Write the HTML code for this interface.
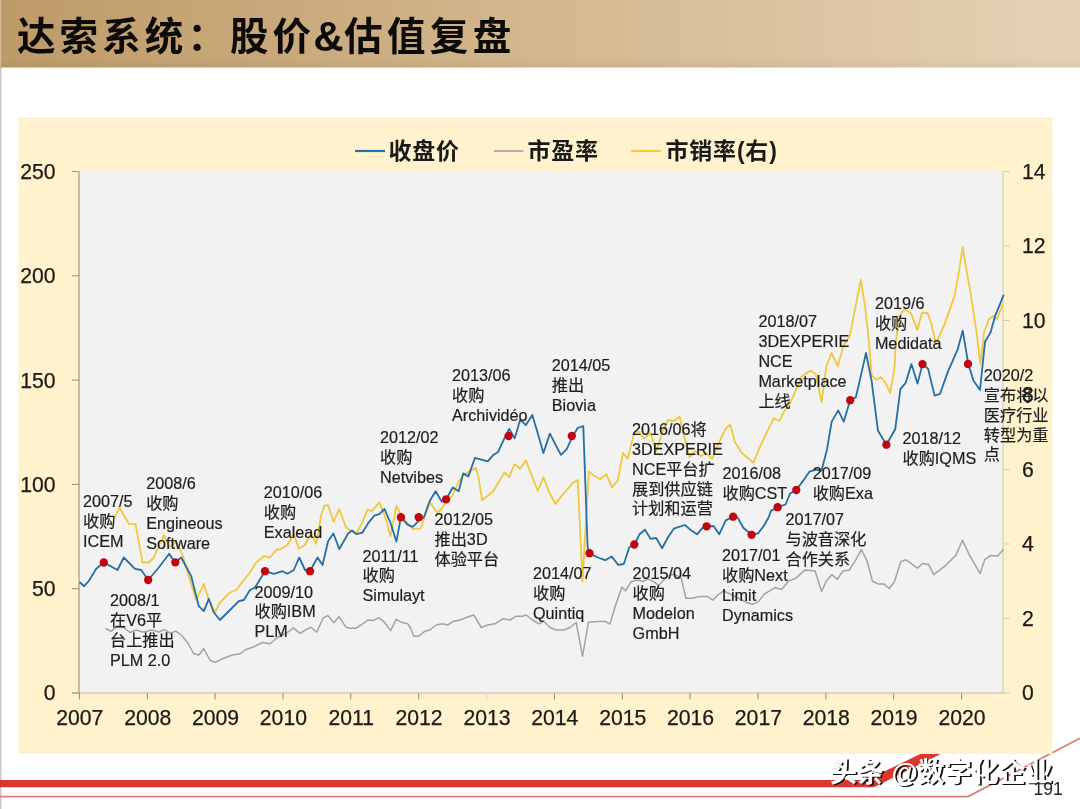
<!DOCTYPE html>
<html lang="zh-CN">
<head>
<meta charset="utf-8">
<title>达索系统：股价&amp;估值复盘</title>
<style>
html,body{margin:0;padding:0;background:#fff;}
body{width:1080px;height:809px;overflow:hidden;position:relative;font-family:"Liberation Sans","Noto Sans CJK SC",sans-serif;}
svg{position:absolute;left:0;top:0;display:block;}
.t{font-family:"Liberation Sans","Noto Sans CJK SC",sans-serif;}
.ax{font-size:21.2px;fill:#1c1a17;stroke:#1c1a17;stroke-width:0.25px;}
.an{font-size:16.2px;fill:#1e1e1e;stroke:#1e1e1e;stroke-width:0.2px;}
.lg{font-size:23px;font-weight:bold;fill:#1a1a1a;letter-spacing:0.8px;}
.ttl{font-size:38.5px;font-weight:bold;fill:#0d0b08;letter-spacing:4.4px;}
</style>
</head>
<body>
<svg width="1080" height="809" viewBox="0 0 1080 809">
<defs>
<linearGradient id="hg" x1="0" y1="0" x2="1" y2="0">
<stop offset="0" stop-color="#be9a68"/>
<stop offset="0.5" stop-color="#d3b78e"/>
<stop offset="1" stop-color="#e5d2b6"/>
</linearGradient>
<linearGradient id="hv" x1="0" y1="0" x2="0" y2="1">
<stop offset="0" stop-color="#000" stop-opacity="0"/>
<stop offset="0.25" stop-color="#000" stop-opacity="0"/>
<stop offset="0.85" stop-color="#000" stop-opacity="0"/>
<stop offset="1" stop-color="#000" stop-opacity="0.05"/>
</linearGradient>
<clipPath id="pc"><rect x="79" y="169.5" width="926" height="523.5"/></clipPath>
</defs>

<rect x="0" y="0" width="1080" height="809" fill="#ffffff"/>
<rect x="0" y="67" width="1.5" height="742" fill="#c9c9c9"/>
<rect x="0" y="0" width="1080" height="67.5" fill="url(#hg)"/>
<rect x="0" y="0" width="1080" height="67.5" fill="url(#hv)"/>
<rect x="0" y="0" width="1.5" height="67" fill="#ffffff" fill-opacity="0.3"/>
<text class="t ttl" x="17" y="50" style="letter-spacing:4.1px">达索系统：股价</text>
<text class="t" x="313.3" y="50.5" font-size="42px" font-weight="bold" fill="#0d0b08">&amp;</text>
<text class="t ttl" x="344" y="50">估值复盘</text>
<polygon points="0,780.1 866.5,780.1 928.6,750 948.6,750 874,787.3 0,787.3" fill="#d9372f"/>
<polyline points="0,796.6 968,796.6 1080,738.3" fill="none" stroke="#de8078" stroke-width="1.9"/>
<rect x="18.3" y="117" width="1034.1" height="637" fill="#fff2cd"/>
<rect x="79" y="171.5" width="924" height="521.5" fill="#f2f2f2"/>
<line x1="79" y1="171.5" x2="79" y2="693" stroke="#a08e6e" stroke-width="1.1"/>
<line x1="1003" y1="171.5" x2="1003" y2="693" stroke="#d3c7a4" stroke-width="1"/>
<line x1="72" y1="693" x2="1003" y2="693" stroke="#c4b9a0" stroke-width="1.2"/>
<line x1="72" y1="693.0" x2="79" y2="693.0" stroke="#a08e6e" stroke-width="1"/>
<text class="t ax" x="55.5" y="700.4" text-anchor="end">0</text>
<line x1="72" y1="588.7" x2="79" y2="588.7" stroke="#a08e6e" stroke-width="1"/>
<text class="t ax" x="55.5" y="596.1" text-anchor="end">50</text>
<line x1="72" y1="484.4" x2="79" y2="484.4" stroke="#a08e6e" stroke-width="1"/>
<text class="t ax" x="55.5" y="491.8" text-anchor="end">100</text>
<line x1="72" y1="380.1" x2="79" y2="380.1" stroke="#a08e6e" stroke-width="1"/>
<text class="t ax" x="55.5" y="387.5" text-anchor="end">150</text>
<line x1="72" y1="275.8" x2="79" y2="275.8" stroke="#a08e6e" stroke-width="1"/>
<text class="t ax" x="55.5" y="283.2" text-anchor="end">200</text>
<line x1="72" y1="171.5" x2="79" y2="171.5" stroke="#a08e6e" stroke-width="1"/>
<text class="t ax" x="55.5" y="178.9" text-anchor="end">250</text>
<line x1="1003" y1="693.0" x2="1010" y2="693.0" stroke="#d8cdac" stroke-width="1"/>
<text class="t ax" x="1022" y="700.4">0</text>
<line x1="1003" y1="618.5" x2="1010" y2="618.5" stroke="#d8cdac" stroke-width="1"/>
<text class="t ax" x="1022" y="625.9">2</text>
<line x1="1003" y1="544.0" x2="1010" y2="544.0" stroke="#d8cdac" stroke-width="1"/>
<text class="t ax" x="1022" y="551.4">4</text>
<line x1="1003" y1="469.5" x2="1010" y2="469.5" stroke="#d8cdac" stroke-width="1"/>
<text class="t ax" x="1022" y="476.9">6</text>
<line x1="1003" y1="395.0" x2="1010" y2="395.0" stroke="#d8cdac" stroke-width="1"/>
<text class="t ax" x="1022" y="402.4">8</text>
<line x1="1003" y1="320.5" x2="1010" y2="320.5" stroke="#d8cdac" stroke-width="1"/>
<text class="t ax" x="1022" y="327.9">10</text>
<line x1="1003" y1="246.0" x2="1010" y2="246.0" stroke="#d8cdac" stroke-width="1"/>
<text class="t ax" x="1022" y="253.4">12</text>
<line x1="1003" y1="171.5" x2="1010" y2="171.5" stroke="#d8cdac" stroke-width="1"/>
<text class="t ax" x="1022" y="178.9">14</text>
<line x1="79.4" y1="693" x2="79.4" y2="699.5" stroke="#9a8a6c" stroke-width="1"/>
<text class="t ax" x="79.8" y="725" text-anchor="middle">2007</text>
<line x1="147.3" y1="693" x2="147.3" y2="699.5" stroke="#9a8a6c" stroke-width="1"/>
<text class="t ax" x="147.7" y="725" text-anchor="middle">2008</text>
<line x1="215.1" y1="693" x2="215.1" y2="699.5" stroke="#9a8a6c" stroke-width="1"/>
<text class="t ax" x="215.5" y="725" text-anchor="middle">2009</text>
<line x1="283.0" y1="693" x2="283.0" y2="699.5" stroke="#9a8a6c" stroke-width="1"/>
<text class="t ax" x="283.4" y="725" text-anchor="middle">2010</text>
<line x1="350.8" y1="693" x2="350.8" y2="699.5" stroke="#9a8a6c" stroke-width="1"/>
<text class="t ax" x="351.2" y="725" text-anchor="middle">2011</text>
<line x1="418.7" y1="693" x2="418.7" y2="699.5" stroke="#9a8a6c" stroke-width="1"/>
<text class="t ax" x="419.1" y="725" text-anchor="middle">2012</text>
<line x1="486.6" y1="693" x2="486.6" y2="699.5" stroke="#d8cfb4" stroke-width="1"/>
<text class="t ax" x="487.0" y="725" text-anchor="middle">2013</text>
<line x1="554.4" y1="693" x2="554.4" y2="699.5" stroke="#9a8a6c" stroke-width="1"/>
<text class="t ax" x="554.8" y="725" text-anchor="middle">2014</text>
<line x1="622.3" y1="693" x2="622.3" y2="699.5" stroke="#9a8a6c" stroke-width="1"/>
<text class="t ax" x="622.7" y="725" text-anchor="middle">2015</text>
<line x1="690.1" y1="693" x2="690.1" y2="699.5" stroke="#9a8a6c" stroke-width="1"/>
<text class="t ax" x="690.5" y="725" text-anchor="middle">2016</text>
<line x1="758.0" y1="693" x2="758.0" y2="699.5" stroke="#9a8a6c" stroke-width="1"/>
<text class="t ax" x="758.4" y="725" text-anchor="middle">2017</text>
<line x1="825.9" y1="693" x2="825.9" y2="699.5" stroke="#9a8a6c" stroke-width="1"/>
<text class="t ax" x="826.3" y="725" text-anchor="middle">2018</text>
<line x1="893.7" y1="693" x2="893.7" y2="699.5" stroke="#9a8a6c" stroke-width="1"/>
<text class="t ax" x="894.1" y="725" text-anchor="middle">2019</text>
<line x1="961.6" y1="693" x2="961.6" y2="699.5" stroke="#9a8a6c" stroke-width="1"/>
<text class="t ax" x="962.0" y="725" text-anchor="middle">2020</text>
<line x1="355" y1="151" x2="385" y2="151" stroke="#256fa3" stroke-width="2.2"/>
<text class="t lg" x="388.5" y="158.7">收盘价</text>
<line x1="494" y1="151" x2="523.5" y2="151" stroke="#a9a9a9" stroke-width="1.8"/>
<text class="t lg" x="527.5" y="158.7">市盈率</text>
<line x1="631" y1="151" x2="661" y2="151" stroke="#f3c93f" stroke-width="2.2"/>
<text class="t lg" x="665.5" y="158.7">市销率(右)</text>
<g clip-path="url(#pc)" fill="none" stroke-linejoin="round" stroke-linecap="round">
<polyline points="106.2,628.8 111.2,631.2 117.5,626.2 123.8,627.5 130.0,632.5 136.2,630.0 142.5,632.0 148.0,631.0 152.0,630.0 158.7,632.0 164.6,629.6 170.6,633.3 175.7,631.1 181.2,635.0 187.5,642.5 193.8,653.8 198.8,655.0 203.8,648.8 210.0,660.0 215.0,662.5 222.5,658.8 232.5,655.0 240.0,653.8 245.0,650.0 255.0,646.2 262.5,642.5 270.0,643.8 277.5,637.5 287.5,632.5 293.3,627.8 300.0,633.3 305.5,630.0 311.1,627.2 316.7,632.2 323.3,617.8 327.8,615.6 333.9,622.8 338.9,616.7 345.6,626.7 350.0,628.3 355.6,628.3 361.1,625.0 367.8,620.0 372.8,620.6 378.9,617.8 384.4,622.2 390.6,630.6 396.1,619.4 401.1,622.2 407.8,623.8 410.5,628.0 413.8,636.2 418.8,636.2 425.0,631.2 430.0,630.0 436.2,625.0 442.5,623.8 447.5,625.0 453.8,621.2 460.0,620.0 466.2,617.5 473.8,615.0 481.2,627.5 487.5,625.0 495.0,623.8 502.5,618.8 510.0,620.0 516.2,616.2 522.5,616.2 526.2,615.0 532.5,620.0 538.8,623.8 543.8,621.2 550.0,627.5 556.2,630.0 563.8,630.0 570.0,627.5 576.2,622.5 582.5,656.2 588.5,622.3 597.8,621.4 605.2,621.4 609.9,624.2 615.4,605.7 621.9,587.1 625.6,590.8 631.2,581.6 637.0,580.0 643.2,581.6 647.8,578.8 653.4,581.6 659.0,585.3 666.4,576.9 673.8,574.1 681.2,577.8 685.8,598.2 692.3,598.2 699.7,596.4 707.2,596.4 712.7,600.1 718.3,594.5 723.8,590.8 730.0,594.0 736.0,597.0 742.0,600.0 748.0,603.0 753.0,604.3 758.5,601.6 764.1,594.1 775.2,587.7 781.7,589.5 788.2,581.2 795.6,578.4 804.9,570.0 815.1,571.0 821.6,591.4 826.2,581.2 831.8,574.7 837.3,579.3 842.9,571.0 849.4,570.0 855.8,559.9 861.4,549.7 867.0,560.8 872.5,581.2 878.1,583.9 883.7,583.9 889.2,588.5 894.3,582.0 900.8,561.6 906.0,559.8 917.5,568.1 922.6,563.5 928.6,564.4 933.7,574.6 945.8,565.3 956.0,555.1 962.5,540.2 969.0,554.1 980.1,573.6 984.7,559.7 990.3,555.6 997.7,556.0 1003.3,549.5" stroke="#a3a3a3" stroke-width="1.5"/>
<polyline points="114.5,518.0 119.3,507.5 128.8,523.8 135.5,524.2 142.5,562.5 148.8,562.5 153.8,557.5 163.8,535.0 170.0,547.5 176.2,541.2 182.5,555.0 190.0,580.0 196.2,600.0 203.8,583.8 208.8,600.0 215.0,612.5 220.0,602.5 230.0,592.5 236.2,590.0 243.8,580.0 250.0,572.5 256.2,562.5 263.8,556.2 270.0,557.5 276.2,550.0 281.2,548.8 287.5,545.0 293.8,533.8 298.8,548.8 305.0,545.0 311.2,533.8 316.2,543.8 321.2,515.0 324.5,505.3 328.2,505.3 333.4,521.6 339.3,509.0 346.0,527.5 350.4,530.5 356.4,533.5 362.3,522.3 367.5,509.7 371.9,511.2 379.3,502.3 385.3,517.2 390.5,536.4 396.4,506.0 400.9,514.0 407.5,523.0 412.7,529.0 420.9,528.3 423.9,518.6 429.8,502.3 437.2,512.7 441.7,509.0 446.1,500.8 452.0,496.4 458.7,481.5 463.2,474.9 469.3,471.6 475.8,467.8 478.5,477.1 482.2,500.3 487.8,495.7 493.4,491.0 498.9,481.8 504.5,472.5 509.1,477.1 514.7,464.1 520.2,468.8 525.8,460.4 532.3,477.1 537.8,491.0 543.4,477.1 549.9,493.8 555.5,504.0 561.0,496.6 566.6,490.1 572.1,483.6 577.7,479.9 582.5,581.5 588.8,471.6 593.5,475.3 600.0,479.0 606.4,474.3 612.0,487.3 617.6,480.8 623.1,453.0 627.7,458.6 634.2,432.6 638.5,431.2 644.1,438.6 650.6,433.0 656.1,451.6 662.6,431.2 668.2,420.0 673.8,421.0 679.6,416.8 684.5,438.0 689.5,457.0 695.5,451.0 701.0,456.0 706.5,453.0 712.0,459.0 718.2,444.1 725.7,428.5 730.3,424.7 734.9,442.3 742.3,453.4 753.5,462.7 759.9,446.9 767.4,431.2 773.8,418.2 779.4,421.0 784.0,411.7 788.7,406.1 794.2,394.1 798.9,383.0 801.1,377.1 810.4,370.6 816.0,374.3 821.5,402.1 826.3,366.8 831.4,353.0 837.9,366.0 843.5,345.5 849.7,336.2 855.2,308.4 860.8,279.7 865.4,308.4 869.1,343.6 871.6,375.2 876.2,379.9 880.8,377.1 885.5,382.6 890.1,392.8 894.5,368.0 896.0,340.0 899.7,315.8 904.3,309.3 910.8,313.0 917.3,329.7 921.9,313.0 927.5,313.0 931.2,323.2 935.8,343.6 944.2,325.1 954.4,296.4 959.0,271.3 962.7,247.2 966.4,269.5 971.1,296.4 976.6,332.5 980.3,364.0 984.0,332.5 988.7,319.5 993.3,315.8 997.0,319.5 1002.6,304.7" stroke="#f2c73c" stroke-width="1.8"/>
<polyline points="80.0,582.5 84.2,586.2 88.8,581.0 96.2,568.8 103.8,562.5 117.5,570.0 123.8,557.5 135.0,568.8 141.2,570.0 148.2,580.0 158.8,567.5 169.2,553.8 175.0,562.5 181.2,557.5 191.2,576.2 198.8,606.2 203.8,611.2 208.8,598.8 213.8,612.5 220.0,620.0 230.0,610.0 238.8,601.2 243.8,600.0 250.0,590.0 255.0,587.5 265.0,571.2 273.8,573.8 282.5,571.2 287.5,573.8 293.8,570.0 299.2,557.5 305.0,570.0 310.0,571.2 317.5,557.5 322.5,565.0 328.2,541.0 333.4,533.5 339.3,549.0 348.2,533.5 351.9,530.5 356.4,534.2 362.3,532.7 368.2,523.1 374.2,515.7 379.3,514.2 384.5,509.0 390.5,523.0 396.4,541.6 400.9,517.2 407.5,524.6 412.7,526.8 418.7,520.9 423.9,517.2 429.8,500.8 435.7,491.2 441.7,501.6 446.1,499.3 452.8,487.5 458.7,491.2 463.2,473.4 468.4,476.4 475.0,457.8 487.8,461.4 493.4,454.9 498.0,452.1 504.5,438.2 509.1,428.9 514.7,438.2 520.2,419.7 525.8,425.2 532.3,415.0 537.8,433.6 543.4,453.0 549.9,433.6 555.5,444.7 561.0,454.9 566.6,449.3 572.1,437.3 577.7,428.0 583.3,426.1 587.6,547.0 589.5,553.2 597.8,557.5 605.2,560.2 611.7,556.5 618.2,564.9 623.8,564.0 629.3,547.3 634.3,544.5 639.5,534.3 645.0,529.7 650.6,538.9 656.2,538.0 662.1,548.2 668.2,537.0 673.8,528.7 684.9,525.0 691.4,530.6 697.0,534.3 702.5,527.8 706.6,526.3 713.6,526.0 719.2,534.3 725.7,520.4 733.1,516.7 737.7,517.6 743.3,527.8 751.6,534.8 758.1,533.4 763.7,526.0 768.3,518.0 771.0,510.9 777.6,507.2 785.6,504.5 790.1,493.5 796.3,490.0 803.0,480.9 809.5,471.6 816.0,469.7 821.5,470.7 827.0,449.4 831.7,421.6 838.2,410.4 843.8,421.6 850.2,400.2 855.8,397.5 861.4,373.4 866.0,353.0 871.6,380.8 878.0,430.8 886.4,444.7 895.2,429.3 900.4,389.1 905.8,382.6 911.4,364.1 917.5,383.6 922.5,364.1 928.1,368.7 934.6,395.6 940.1,393.8 947.6,372.4 957.7,349.3 962.7,330.7 968.3,364.0 973.5,380.8 980.0,390.0 985.0,341.8 990.5,332.5 995.2,315.8 999.8,304.7 1003.5,295.4" stroke="#256fa3" stroke-width="1.8"/>
</g>
<circle cx="103.8" cy="562.5" r="4.15" fill="#c3050f"/>
<circle cx="148.2" cy="580.0" r="4.15" fill="#c3050f"/>
<circle cx="175.3" cy="562.3" r="4.15" fill="#c3050f"/>
<circle cx="265.0" cy="571.2" r="4.15" fill="#c3050f"/>
<circle cx="310.0" cy="571.2" r="4.15" fill="#c3050f"/>
<circle cx="400.9" cy="517.2" r="4.15" fill="#c3050f"/>
<circle cx="418.7" cy="517.2" r="4.15" fill="#c3050f"/>
<circle cx="446.1" cy="499.3" r="4.15" fill="#c3050f"/>
<circle cx="508.6" cy="436.0" r="4.15" fill="#c3050f"/>
<circle cx="571.8" cy="436.0" r="4.15" fill="#c3050f"/>
<circle cx="589.5" cy="553.2" r="4.15" fill="#c3050f"/>
<circle cx="634.3" cy="544.5" r="4.15" fill="#c3050f"/>
<circle cx="706.6" cy="526.3" r="4.15" fill="#c3050f"/>
<circle cx="733.1" cy="516.7" r="4.15" fill="#c3050f"/>
<circle cx="751.6" cy="534.8" r="4.15" fill="#c3050f"/>
<circle cx="777.6" cy="507.2" r="4.15" fill="#c3050f"/>
<circle cx="796.3" cy="490.0" r="4.15" fill="#c3050f"/>
<circle cx="850.2" cy="400.2" r="4.15" fill="#c3050f"/>
<circle cx="886.4" cy="444.7" r="4.15" fill="#c3050f"/>
<circle cx="922.5" cy="364.1" r="4.15" fill="#c3050f"/>
<circle cx="968.0" cy="364.0" r="4.15" fill="#c3050f"/>
<text class="t an" x="83.0" y="507.0">
<tspan x="83.0" y="507.0">2007/5</tspan>
<tspan x="83.0" y="526.9">收购</tspan>
<tspan x="83.0" y="546.8">ICEM</tspan>
</text>
<text class="t an" x="146.2" y="488.8">
<tspan x="146.2" y="488.8">2008/6</tspan>
<tspan x="146.2" y="508.6">收购</tspan>
<tspan x="146.2" y="528.5">Engineous</tspan>
<tspan x="146.2" y="548.5">Software</tspan>
</text>
<text class="t an" x="263.8" y="498.0">
<tspan x="263.8" y="498.0">2010/06</tspan>
<tspan x="263.8" y="517.9">收购</tspan>
<tspan x="263.8" y="537.8">Exalead</tspan>
</text>
<text class="t an" x="110.0" y="606.2">
<tspan x="110.0" y="606.2">2008/1</tspan>
<tspan x="110.0" y="626.1">在V6平</tspan>
<tspan x="110.0" y="646.0">台上推出</tspan>
<tspan x="110.0" y="666.0">PLM 2.0</tspan>
</text>
<text class="t an" x="254.5" y="597.5">
<tspan x="254.5" y="597.5">2009/10</tspan>
<tspan x="254.5" y="617.4">收购IBM</tspan>
<tspan x="254.5" y="637.3">PLM</tspan>
</text>
<text class="t an" x="362.5" y="561.5">
<tspan x="362.5" y="561.5">2011/11</tspan>
<tspan x="362.5" y="581.4">收购</tspan>
<tspan x="362.5" y="601.3">Simulayt</tspan>
</text>
<text class="t an" x="434.5" y="525.0">
<tspan x="434.5" y="525.0">2012/05</tspan>
<tspan x="434.5" y="544.9">推出3D</tspan>
<tspan x="434.5" y="564.8">体验平台</tspan>
</text>
<text class="t an" x="533.0" y="579.2">
<tspan x="533.0" y="579.2">2014/07</tspan>
<tspan x="533.0" y="599.1">收购</tspan>
<tspan x="533.0" y="619.0">Quintiq</tspan>
</text>
<text class="t an" x="380.0" y="443.0">
<tspan x="380.0" y="443.0">2012/02</tspan>
<tspan x="380.0" y="462.9">收购</tspan>
<tspan x="380.0" y="482.8">Netvibes</tspan>
</text>
<text class="t an" x="452.0" y="380.8">
<tspan x="452.0" y="380.8">2013/06</tspan>
<tspan x="452.0" y="400.6">收购</tspan>
<tspan x="452.0" y="420.6">Archividéo</tspan>
</text>
<text class="t an" x="551.8" y="371.2">
<tspan x="551.8" y="371.2">2014/05</tspan>
<tspan x="551.8" y="391.1">推出</tspan>
<tspan x="551.8" y="411.1">Biovia</tspan>
</text>
<text class="t an" x="632.0" y="434.8">
<tspan x="632.0" y="434.8">2016/06将</tspan>
<tspan x="632.0" y="454.7">3DEXPERIE</tspan>
<tspan x="632.0" y="474.6">NCE平台扩</tspan>
<tspan x="632.0" y="494.5">展到供应链</tspan>
<tspan x="632.0" y="514.4">计划和运营</tspan>
</text>
<text class="t an" x="632.6" y="578.8">
<tspan x="632.6" y="578.8">2015/04</tspan>
<tspan x="632.6" y="598.7">收购</tspan>
<tspan x="632.6" y="618.6">Modelon</tspan>
<tspan x="632.6" y="638.5">GmbH</tspan>
</text>
<text class="t an" x="722.0" y="560.8">
<tspan x="722.0" y="560.8">2017/01</tspan>
<tspan x="722.0" y="580.7">收购Next</tspan>
<tspan x="722.0" y="600.6">Limit</tspan>
<tspan x="722.0" y="620.5">Dynamics</tspan>
</text>
<text class="t an" x="722.5" y="479.0">
<tspan x="722.5" y="479.0">2016/08</tspan>
<tspan x="722.5" y="498.9">收购CST</tspan>
</text>
<text class="t an" x="785.5" y="524.8">
<tspan x="785.5" y="524.8">2017/07</tspan>
<tspan x="785.5" y="544.7">与波音深化</tspan>
<tspan x="785.5" y="564.6">合作关系</tspan>
</text>
<text class="t an" x="812.7" y="479.3">
<tspan x="812.7" y="479.3">2017/09</tspan>
<tspan x="812.7" y="499.2">收购Exa</tspan>
</text>
<text class="t an" x="758.4" y="326.9">
<tspan x="758.4" y="326.9">2018/07</tspan>
<tspan x="758.4" y="346.8">3DEXPERIE</tspan>
<tspan x="758.4" y="366.7">NCE</tspan>
<tspan x="758.4" y="386.6">Marketplace</tspan>
<tspan x="758.4" y="406.5">上线</tspan>
</text>
<text class="t an" x="874.9" y="308.8">
<tspan x="874.9" y="308.8">2019/6</tspan>
<tspan x="874.9" y="328.7">收购</tspan>
<tspan x="874.9" y="348.6">Medidata</tspan>
</text>
<text class="t an" x="902.5" y="444.0">
<tspan x="902.5" y="444.0">2018/12</tspan>
<tspan x="902.5" y="463.9">收购IQMS</tspan>
</text>
<text class="t an" x="983.8" y="380.8">
<tspan x="983.8" y="380.8">2020/2</tspan>
<tspan x="983.8" y="400.7">宣布将以</tspan>
<tspan x="983.8" y="420.6">医疗行业</tspan>
<tspan x="983.8" y="440.5">转型为重</tspan>
<tspan x="983.8" y="460.4">点</tspan>
</text>
<g class="t" font-size="27px" font-weight="700" style="font-family:'Liberation Sans','Noto Sans CJK SC',sans-serif">
<text x="831.7" y="783.4" fill="#111">头条 @数字化企业</text>
<text x="830" y="781.7" fill="#ffffff">头条 @数字化企业</text>
</g>
<text class="t" x="1033.5" y="795" font-size="17.5px" fill="#222">191</text>
</svg>
</body>
</html>
